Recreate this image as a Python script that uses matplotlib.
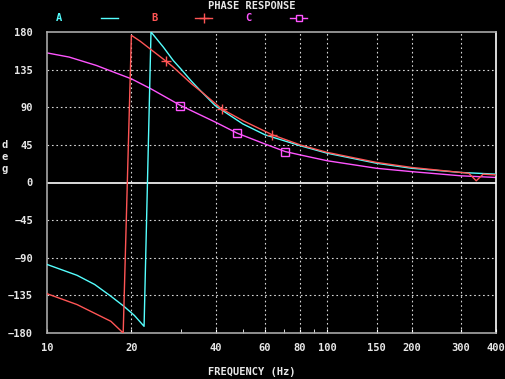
import matplotlib
matplotlib.use("Agg")
import matplotlib.pyplot as plt
from matplotlib.ticker import FixedLocator, NullFormatter

# Phase response data (frequency in Hz, phase in deg)
a_freq = [10, 12.8, 14.8, 16.9, 18.8, 20.5, 22.2, 23.5, 26, 28.2, 30, 32.8, 35, 39.8,
          50, 60, 80, 100, 150, 200, 300, 400]
a_phase = [-98, -111, -122, -136, -148, -159, -172, 180, 162, 146, 136, 121, 111, 92,
           70, 57, 44, 35, 23, 17, 12, 10]

b_freq = [10, 12.8, 16.9, 18.7, 20, 21.5, 26.6, 28, 32.8, 36, 42, 50, 63.7, 80, 100,
          150, 200, 300, 320, 340, 360, 400]
b_phase = [-133, -146, -166, -180, 176, 169, 145, 139, 118, 107, 88, 74, 57, 45, 36,
           24, 18, 12, 11, 2, 10, 9]
b_mark_freq = [26.6, 42.0, 63.7]
b_mark_phase = [145, 88, 57]

c_freq = [10, 12, 15, 17, 20, 23.5, 30, 40, 47.7, 60, 70.8, 80, 100, 150, 200, 300, 400]
c_phase = [155, 150, 140, 133, 124, 112, 92, 72, 59, 46, 37, 33, 26, 17, 13, 8, 6]
c_mark_freq = [29.9, 47.7, 70.8]
c_mark_phase = [92, 59, 37]

x_ticks = [10, 20, 40, 60, 80, 100, 150, 200, 300, 400]
x_minor = [30, 50, 70, 90]
y_ticks = [180, 135, 90, 45, 0, -45, -90, -135, -180]

CYAN = "#55ffff"
RED = "#ff5555"
MAGENTA = "#ff55ff"
TEXT = "#e8e8e8"
FONT = "DejaVu Sans Mono"

fig = plt.figure(figsize=(5.05, 3.79), dpi=100, facecolor="black")
ax = fig.add_axes([47 / 505, 1 - 333 / 379, 449 / 505, 301 / 379], facecolor="black")

ax.set_xscale("log")
ax.set_xlim(10, 400)
ax.set_ylim(-180, 180)

# grid
for f in x_ticks[1:-1]:
    ax.axvline(f, color="#d8d8d8", lw=0.8, ls=(0, (1.5, 2.5)), zorder=1)
for v in y_ticks[1:-1]:
    if v != 0:
        ax.axhline(v, color="#d8d8d8", lw=0.8, ls=(0, (1.5, 2.5)), zorder=1)
ax.axhline(0, color="white", lw=1.2, zorder=1)

ax.plot(a_freq, a_phase, color=CYAN, lw=1, zorder=3)
ax.plot(b_freq, b_phase, color=RED, lw=1, zorder=3)
ax.plot(b_mark_freq, b_mark_phase, ls="none", marker="+", ms=6.5, mew=1, color=RED, zorder=4)
ax.plot(c_freq, c_phase, color=MAGENTA, lw=1, zorder=2)
ax.plot(c_mark_freq, c_mark_phase, ls="none", marker="s", ms=5.5, mew=1,
        mfc="none", mec=MAGENTA, zorder=4)

ax.xaxis.set_major_locator(FixedLocator(x_ticks))
ax.xaxis.set_minor_locator(FixedLocator(x_minor))
ax.xaxis.set_minor_formatter(NullFormatter())
ax.set_xticklabels([str(t) for t in x_ticks])
ax.set_yticks(y_ticks)
ax.tick_params(axis="x", which="both", direction="in", length=3, color="white",
               labelcolor=TEXT, labelsize=7.5, pad=7)
ax.tick_params(axis="y", length=0, labelcolor=TEXT, labelsize=7.5, pad=10)
for lab in ax.get_xticklabels() + ax.get_yticklabels():
    lab.set_fontfamily(FONT)
    lab.set_fontweight("bold")

for side in ["left", "top", "bottom"]:
    ax.spines[side].set_color("#a8a8a8")
    ax.spines[side].set_linewidth(1.2)
ax.spines["right"].set_color("white")
ax.spines["right"].set_linewidth(1.2)

txt = dict(fontfamily=FONT, fontweight="bold", fontsize=7.5, ha="center", va="center")
fig.text(252 / 505, 1 - 6 / 379, "PHASE RESPONSE", color=TEXT, **txt)
fig.text(252 / 505, 1 - 372 / 379, "FREQUENCY (Hz)", color=TEXT, **txt)
fig.text(5 / 505, 1 - 157 / 379, "d\ne\ng", color=TEXT, linespacing=1.3, **txt)

# legend row
ly = 1 - 18 / 379
fig.text(59 / 505, ly, "A", color=CYAN, **txt)
fig.add_artist(plt.Line2D([101 / 505, 118 / 505], [ly, ly], color=CYAN, lw=1))
fig.text(154 / 505, ly, "B", color=RED, **txt)
fig.add_artist(plt.Line2D([195 / 505, 212 / 505], [ly, ly], color=RED, lw=1))
fig.add_artist(plt.Line2D([203.5 / 505], [ly], color=RED, marker="+", ms=6.5, mew=1))
fig.text(248 / 505, ly, "C", color=MAGENTA, **txt)
fig.add_artist(plt.Line2D([290 / 505, 307 / 505], [ly, ly], color=MAGENTA, lw=1))
fig.add_artist(plt.Line2D([298.5 / 505], [ly], color=MAGENTA, marker="s", ms=5,
                          mfc="black", mec=MAGENTA, mew=1))

fig.savefig("out.png", dpi=100, facecolor="black")
